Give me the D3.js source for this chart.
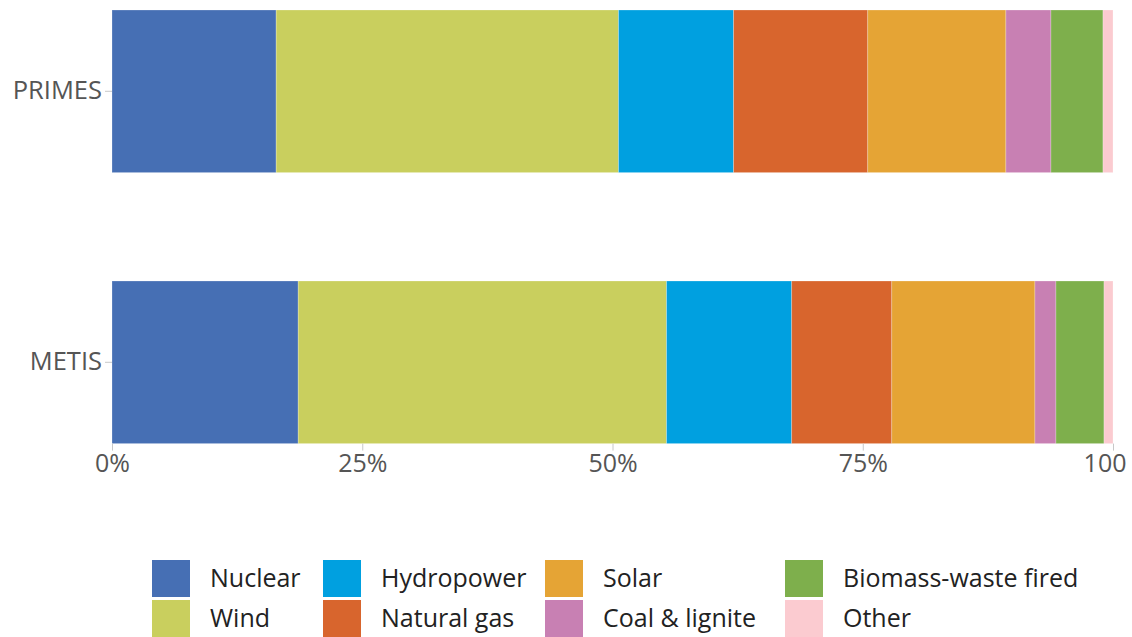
<!DOCTYPE html>
<html><head><meta charset="utf-8">
<script src="https://cdn.jsdelivr.net/npm/d3@7"></script>
<style>
html,body{margin:0;padding:0;background:#fff;overflow:hidden}
svg{display:block;font-family:"Open Sans",Lato,sans-serif}
</style></head>
<body><svg id="c" width="1132" height="637"></svg>
<script>
const scenarios = ["PRIMES", "METIS"];
const sources = ["Nuclear", "Wind", "Hydropower", "Natural gas", "Solar", "Coal & lignite", "Biomass-waste fired", "Other"];
const primesValues = [16.4, 34.2, 11.5, 13.4, 13.8, 4.5, 5.2, 1.0];
const metisValues  = [18.6, 36.8, 12.5, 10.0, 14.3, 2.1, 4.8, 0.9];
const colors = ["#466fb4", "#c9cf5e", "#00a0e0", "#d8652d", "#e5a435", "#c880b3", "#7eaf4c", "#fbcbd0"];
const xTicks = [0, 25, 50, 75, 100];
const xTickLabels = ["0%", "25%", "50%", "75%", "100"];

const svg = d3.select("#c");
const FONT = "'Open Sans',Lato,sans-serif";
const x = d3.scaleLinear().domain([0, 100]).range([112, 1113]);
const y = d3.scaleBand().domain(scenarios).range([10, 443.6]).paddingInner(0.4).paddingOuter(0);
const color = d3.scaleOrdinal().domain(sources).range(colors);

const rows = [primesValues, metisValues].map((vals, i) => {
  const o = {scenario: scenarios[i]};
  sources.forEach((s, j) => o[s] = vals[j]);
  return o;
});
const stacked = d3.stack().keys(sources)(rows);

svg.append("g").selectAll("g").data(stacked).join("g")
  .attr("fill", d => color(d.key))
  .selectAll("rect").data(d => d).join("rect")
  .attr("x", d => x(d[0]))
  .attr("width", d => x(d[1]) - x(d[0]))
  .attr("y", d => y(d.data.scenario))
  .attr("height", y.bandwidth())
  .attr("stroke", "#ffffff").attr("stroke-opacity", 0.3).attr("stroke-width", 0.8);

// x axis
const xa = svg.append("g").attr("transform", `translate(0,${y.range()[1]})`)
  .call(d3.axisBottom(x).tickValues(xTicks).tickFormat((d, i) => xTickLabels[i]).tickSize(7).tickPadding(4));
xa.select(".domain").remove();
xa.selectAll(".tick line").attr("stroke", "#c8c8c8");
xa.selectAll(".tick text").attr("fill", "#555").style("font-size", "25px").style("font-family", FONT);
xa.selectAll(".tick text").filter((d, i) => i === xTicks.length - 1)
  .attr("text-anchor", "end").attr("x", 13);

// y axis
const ya = svg.append("g").attr("transform", `translate(${x(0)},0)`)
  .call(d3.axisLeft(y).tickSize(7).tickPadding(3));
ya.select(".domain").remove();
ya.selectAll(".tick line").attr("stroke", "#c8c8c8");
ya.selectAll(".tick text").attr("fill", "#555").style("font-size", "25.5px").style("font-family", FONT);

// legend
const colX = [152, 323, 545, 785];
const rowY = [560, 600];
const leg = svg.append("g");
sources.forEach((s, i) => {
  const cx = colX[Math.floor(i / 2)], cy = rowY[i % 2];
  leg.append("rect").attr("x", cx).attr("y", cy).attr("width", 38).attr("height", 37).attr("fill", color(s));
  leg.append("text").attr("x", cx + 58).attr("y", cy + 18.5).attr("dy", "0.35em")
    .attr("fill", "#222").style("font-size", "25px").style("font-family", FONT).text(s);
});
</script></body></html>
